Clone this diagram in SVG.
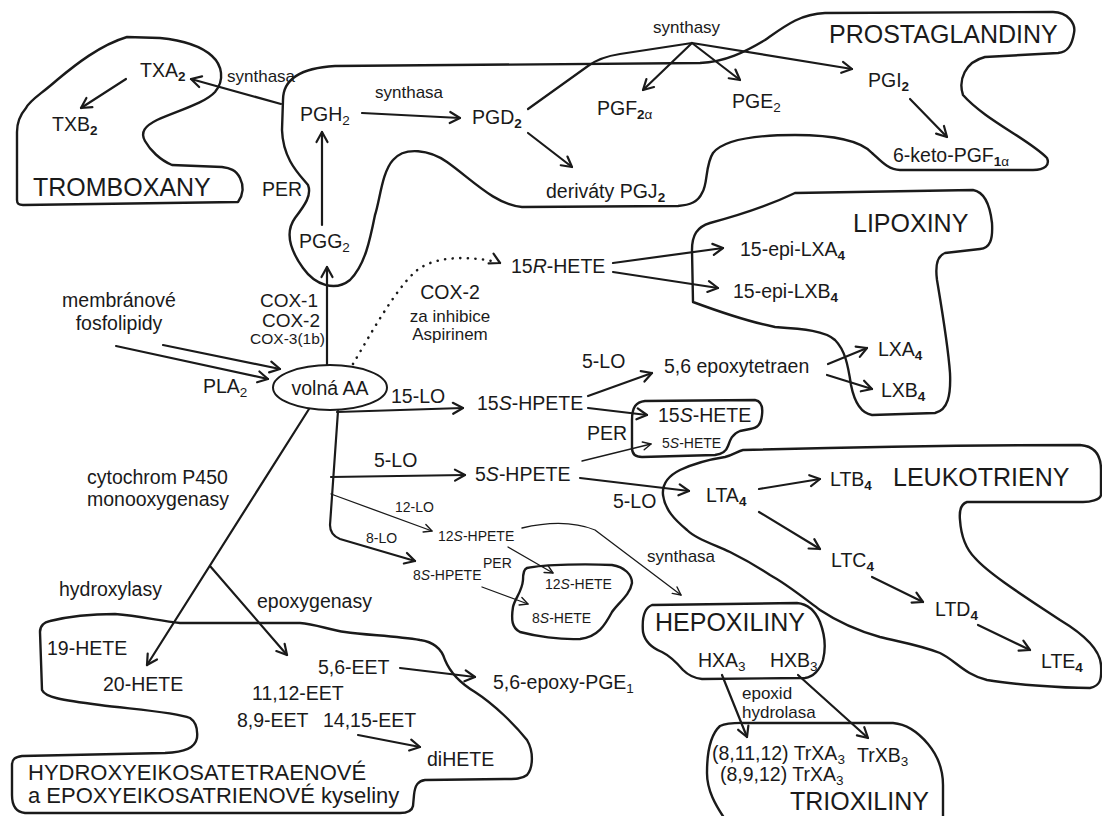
<svg xmlns="http://www.w3.org/2000/svg" width="1102" height="816" viewBox="0 0 1102 816">
<style>
.t{font-family:"Liberation Sans",Arial,sans-serif;font-size:19.5px;fill:#1a1a1a}
.s{font-size:17px}
.xs{font-size:14px}
.m{font-size:15.5px}
.c{font-size:19px}
.big{font-size:25px}
.h{font-size:22px}
.sub{font-size:13.5px}
.b{font-weight:bold}
.i{font-style:italic}
.ln{fill:none;stroke:#1a1a1a;stroke-width:2.2;stroke-linecap:round;stroke-linejoin:round}
.thin{stroke-width:1.3}
.dot{stroke-width:2.6;stroke-dasharray:0.1 7.5}
.blob{fill:none;stroke:#1a1a1a;stroke-width:2.4;stroke-linejoin:round}
.a{marker-end:url(#arr)}
.as{marker-end:url(#arrs)}
</style>
<defs>
<marker id="arr" viewBox="-13 -8 15 16" refX="0" refY="0" markerWidth="15" markerHeight="16" markerUnits="userSpaceOnUse" orient="auto"><path d="M-10,-5.5 L0,0 L-10,5.5" fill="none" stroke="#1a1a1a" stroke-width="2.2" stroke-linecap="round" stroke-linejoin="round"/></marker>
<marker id="arrs" viewBox="-10 -6 12 12" refX="0" refY="0" markerWidth="12" markerHeight="12" markerUnits="userSpaceOnUse" orient="auto"><path d="M-8,-4 L0,0 L-8,4" fill="none" stroke="#1a1a1a" stroke-width="1.4" stroke-linecap="round" stroke-linejoin="round"/></marker>
</defs>
<rect width="1102" height="816" fill="#ffffff"/>

<g id="groups">
<path id="blob-tromboxany" class="blob" d="M127,37 C100,45 75,65 57,80 C40,95 30,100 26,108 C20,115 17,122 17,132 L17,200 C17,204 19,205 23,205 L238,202 C243,195 244,186 240,178 C236,170 230,168 222,167 L172,165 C160,160 150,150 145,141 C140,132 145,126 157,120 C180,110 205,103 215,92 C225,80 222,65 212,56 C200,45 180,40 160,38 Z"/>
<path id="blob-prostaglandiny" class="blob" d="M283,100 C283,80 300,68 335,66 L700,63 C725,62 745,52 765,40 C785,26 800,14 825,13 L1053,12 C1068,12 1076,24 1074,33 C1072,45 1068,52 1058,53 L985,57 C965,62 958,80 963,95 C985,120 1030,140 1047,158 C1050,165 1045,170 1033,170 L900,170 C888,170 880,160 872,153 C860,140 830,135 795,135 C760,135 725,138 713,153 C705,165 708,185 702,193 C698,202 690,205 678,206 L522,207 C495,205 470,178 447,162 C430,150 405,146 393,160 C382,172 380,200 375,215 C370,240 365,265 350,280 C335,292 315,285 303,268 C290,250 285,232 295,218 C305,205 312,195 308,185 C300,175 283,160 282,130 Z"/>
<path id="blob-lipoxiny" class="blob" d="M795,193 L973,190 C985,192 990,205 992,223 C993,240 990,248 980,249 L945,253 C937,256 935,265 937,280 C942,310 948,345 950,373 C951,395 948,410 935,413 L872,415 C860,413 854,400 851,385 C848,365 845,350 835,340 C825,331 805,329 775,327 C750,322 720,312 693,302 L692,250 C692,235 697,227 710,223 C740,215 770,205 795,193 Z"/>
<path id="blob-15shete" class="blob" d="M632,420 C632,407 636,402 645,401 L755,400 C761,401 763,407 762,415 C761,424 758,428 750,429 L740,431 C732,434 730,440 728,446 C726,452 722,454 715,455 L642,457 C636,457 632,454 632,448 Z"/>
<path id="blob-12shete" class="blob" d="M527,568 C545,564 590,564 612,565 C625,567 632,575 632,583 C630,595 618,603 612,612 C605,625 598,637 580,639 C560,640 535,636 520,632 C512,628 511,620 513,607 C515,598 522,592 523,580 C523,573 524,569 527,568 Z"/>
<path id="blob-leukotrieny" class="blob" d="M743,450 C850,447 1000,445 1080,445 C1095,446 1101,455 1101,470 L1101,495 C1100,500 1090,502 1083,502 L967,502 C961,504 959,510 960,520 C961,535 965,548 975,558 C990,575 1030,600 1060,620 C1085,635 1100,650 1101,665 C1102,680 1100,686 1090,688 C1060,688 1010,684 987,680 C965,675 955,660 940,653 C920,645 900,642 880,637 C855,630 835,620 820,610 C800,595 785,583 770,575 C755,565 742,558 730,552 C710,543 695,538 687,530 C675,520 665,510 663,495 C662,485 668,476 680,470 C695,463 712,459 725,457 C733,455 738,451 743,450 Z"/>
<path id="blob-hepoxiliny" class="blob" d="M652,605 L797,603 C807,604 815,610 820,622 C825,635 826,648 823,660 C820,670 813,677 805,678 L702,679 C693,678 688,675 683,670 C677,663 670,656 662,652 C652,648 645,642 643,632 C642,620 644,608 652,605 Z"/>
<path id="blob-trioxiliny" class="blob" d="M727,822 C715,805 707,790 707,773 C707,755 710,735 720,726 C728,722 740,723 750,723 L893,723 C905,724 918,732 928,744 C938,756 943,770 943,785 L943,822"/>
<path id="blob-hydroxy" class="blob" d="M40,632 C40,626 44,622 50,621 C70,616 95,614 115,614 C140,616 160,621 180,623 L300,623 C315,624 330,630 345,632 C365,635 395,636 420,640 C435,642 442,650 445,660 C450,672 460,683 475,692 C495,705 515,725 527,740 C534,752 533,768 527,775 C522,779 515,779 505,779 L425,780 C418,781 415,785 414,795 L413,806 C412,811 408,813 400,813 L25,813 C15,812 12,805 12,795 L12,765 C12,759 15,757 22,756 L165,753 C185,752 195,748 197,738 C198,728 196,722 190,718 C175,712 130,709 100,705 C60,700 45,697 42,690 Z"/>
</g>

<g id="connectors">
<path class="ln a" d="M126,79 L81,108"/>
<path class="ln a" d="M281,104 L191,79"/>
<path class="ln a" d="M362,113 L460,118"/>
<path class="ln a" d="M322,225 L322,132"/>
<path class="ln a" d="M327,365 L327,267"/>
<path class="ln a" d="M528,133 L572,167"/>
<path class="ln" d="M528,109 L588,66 Q600,57 620,54 L692,43"/>
<path class="ln a" d="M692,43 L643,90"/>
<path class="ln a" d="M692,43 L740,80"/>
<path class="ln a" d="M692,43 L852,69"/>
<path class="ln a" d="M910,99 L947,137"/>
<path class="ln a" d="M116,346 L268,379"/>
<path class="ln a" d="M163,345 L280,369"/>
<path class="ln dot" d="M353,364 C370,335 395,290 415,272 C430,258 460,255 492,261"/>
<path class="ln a" d="M499,262.5 L500,263"/>
<path class="ln a" d="M613,263 L723,248"/>
<path class="ln a" d="M613,272 L718,288"/>
<path class="ln a" d="M337,412 L463,408"/>
<path class="ln a" d="M338,411 L330,525 Q330,535 340,539 L415,561"/>
<path class="ln a" d="M331,477 L465,475"/>
<path class="ln thin as" d="M331,494 L432,531"/>
<path class="ln a" d="M588,396 L652,373"/>
<path class="ln a" d="M588,408 L647,415"/>
<path class="ln thin as" d="M582,461 L651,444"/>
<path class="ln a" d="M580,478 L689,491"/>
<path class="ln a" d="M828,364 L867,348"/>
<path class="ln a" d="M827,375 L872,389"/>
<path class="ln a" d="M759,489 L820,479"/>
<path class="ln a" d="M759,512 L820,549"/>
<path class="ln a" d="M872,577 L923,602"/>
<path class="ln a" d="M978,625 L1030,650"/>
<path class="ln thin as" d="M522,528 Q565,518 595,530 L681,595"/>
<path class="ln thin as" d="M508,547 L553,573"/>
<path class="ln thin as" d="M482,587 L528,604"/>
<path class="ln a" d="M309,409 L147,665"/>
<path class="ln a" d="M210,566 L287,655"/>
<path class="ln a" d="M400,668 L475,677"/>
<path class="ln a" d="M358,735 L420,747"/>
<path class="ln a" d="M722,675 L747,737"/>
<path class="ln a" d="M798,675 L868,738"/>
</g>

<g id="labels">
<text class="t s" x="653" y="33">synthasy</text>
<text class="t s" x="227" y="82">synthasa</text>
<text class="t s" x="375" y="98">synthasa</text>
<text class="t" x="262" y="196">PER</text>
<text class="t c" x="318" y="307" text-anchor="end">COX-1</text>
<text class="t c" x="320" y="327" text-anchor="end">COX-2</text>
<text class="t m" x="325" y="344" text-anchor="end">COX-3(1b)</text>
<text class="t" x="450" y="299" text-anchor="middle">COX-2</text>
<text class="t s" x="450" y="322" text-anchor="middle">za inhibice</text>
<text class="t s" x="450" y="340" text-anchor="middle">Aspirinem</text>
<text class="t" x="203" y="393">PLA<tspan class="sub" dy="4">2</tspan></text>
<text class="t" x="582" y="368">5-LO</text>
<text class="t" x="391" y="403">15-LO</text>
<text class="t" x="587" y="440">PER</text>
<text class="t" x="374" y="467">5-LO</text>
<text class="t" x="613" y="508">5-LO</text>
<text class="t xs" x="395" y="512">12-LO</text>
<text class="t xs" x="366" y="543">8-LO</text>
<text class="t s" x="647" y="562">synthasa</text>
<text class="t xs" x="483" y="568">PER</text>
<text class="t" x="87" y="484">cytochrom P450</text>
<text class="t" x="87" y="506">monooxygenasy</text>
<text class="t" x="59" y="596">hydroxylasy</text>
<text class="t" x="257" y="608">epoxygenasy</text>
<text class="t s" x="742" y="699">epoxid</text>
<text class="t s" x="742" y="718">hydrolasa</text>
</g>

<g id="titles">
<text class="t big" x="829" y="43">PROSTAGLANDINY</text>
<text class="t big" x="33" y="196">TROMBOXANY</text>
<text class="t big" x="853" y="232">LIPOXINY</text>
<text class="t big" x="893" y="486">LEUKOTRIENY</text>
<text class="t big" x="655" y="631">HEPOXILINY</text>
<text class="t big" x="790" y="810">TRIOXILINY</text>
<text class="t h" x="28" y="780">HYDROXYEIKOSATETRAENOVÉ</text>
<text class="t h" x="28" y="803">a EPOXYEIKOSATRIENOVÉ kyseliny</text>
</g>

<g id="node-TXA2"><text class="t" x="140" y="77">TXA<tspan class="sub b" dy="4">2</tspan></text></g>
<g id="node-TXB2"><text class="t" x="52" y="131">TXB<tspan class="sub b" dy="4">2</tspan></text></g>
<g id="node-PGH2"><text class="t" x="300" y="121">PGH<tspan class="sub" dy="4">2</tspan></text></g>
<g id="node-PGG2"><text class="t" x="299" y="248">PGG<tspan class="sub" dy="4">2</tspan></text></g>
<g id="node-PGD2"><text class="t" x="472" y="124">PGD<tspan class="sub b" dy="4">2</tspan></text></g>
<g id="node-PGF2a"><text class="t" x="597" y="115">PGF<tspan class="sub b" dy="4">2</tspan><tspan class="sub" font-size="12">α</tspan></text></g>
<g id="node-PGE2"><text class="t" x="732" y="108">PGE<tspan class="sub" dy="4">2</tspan></text></g>
<g id="node-PGI2"><text class="t" x="868" y="87">PGI<tspan class="sub b" dy="4">2</tspan></text></g>
<g id="node-6keto"><text class="t" x="893" y="162">6-keto-PGF<tspan class="sub b" dy="4">1</tspan><tspan class="sub" font-size="12">α</tspan></text></g>
<g id="node-PGJ2"><text class="t" x="546" y="198">deriváty PGJ<tspan class="sub b" dy="4">2</tspan></text></g>
<g id="node-15RHETE"><text class="t" x="511" y="273">15<tspan class="i">R</tspan>-HETE</text></g>
<g id="node-15epiLXA4"><text class="t" x="740" y="256">15-epi-LXA<tspan class="sub b" dy="4">4</tspan></text></g>
<g id="node-15epiLXB4"><text class="t" x="733" y="298">15-epi-LXB<tspan class="sub b" dy="4">4</tspan></text></g>
<g id="node-membrane"><text class="t" x="119" y="307" text-anchor="middle">membránové</text><text class="t" x="119" y="330" text-anchor="middle">fosfolipidy</text></g>
<g id="node-AA"><ellipse cx="330" cy="387.5" rx="57" ry="22.5" fill="none" stroke="#1a1a1a" stroke-width="2"/><text class="t" x="330" y="395" text-anchor="middle">volná AA</text></g>
<g id="node-epoxytetraen"><text class="t" x="664" y="373">5,6 epoxytetraen</text></g>
<g id="node-LXA4"><text class="t" x="878" y="356">LXA<tspan class="sub b" dy="4">4</tspan></text></g>
<g id="node-LXB4"><text class="t" x="881" y="397">LXB<tspan class="sub b" dy="4">4</tspan></text></g>
<g id="node-15SHPETE"><text class="t" x="477" y="410">15<tspan class="i">S</tspan>-HPETE</text></g>
<g id="node-15SHETE"><text class="t" x="658" y="422">15<tspan class="i">S</tspan>-HETE</text></g>
<g id="node-5SHETE"><text class="t xs" x="662" y="448">5<tspan class="i">S</tspan>-HETE</text></g>
<g id="node-5SHPETE"><text class="t" x="475" y="481">5<tspan class="i">S</tspan>-HPETE</text></g>
<g id="node-LTB4"><text class="t" x="830" y="486">LTB<tspan class="sub b" dy="4">4</tspan></text></g>
<g id="node-LTA4"><text class="t" x="706" y="502">LTA<tspan class="sub b" dy="4">4</tspan></text></g>
<g id="node-LTC4"><text class="t" x="831" y="567">LTC<tspan class="sub b" dy="4">4</tspan></text></g>
<g id="node-LTD4"><text class="t" x="935" y="616">LTD<tspan class="sub b" dy="4">4</tspan></text></g>
<g id="node-LTE4"><text class="t" x="1041" y="668">LTE<tspan class="sub b" dy="4">4</tspan></text></g>
<g id="node-12SHPETE"><text class="t xs" x="438" y="541">12<tspan class="i">S</tspan>-HPETE</text></g>
<g id="node-8SHPETE"><text class="t xs" x="413" y="580">8<tspan class="i">S</tspan>-HPETE</text></g>
<g id="node-12SHETE"><text class="t xs" x="545" y="589">12<tspan class="i">S</tspan>-HETE</text></g>
<g id="node-8SHETE"><text class="t xs" x="532" y="623">8<tspan class="i">S</tspan>-HETE</text></g>
<g id="node-HXA3"><text class="t" x="698" y="667">HXA<tspan class="sub" dy="4">3</tspan></text></g>
<g id="node-HXB3"><text class="t" x="770" y="667">HXB<tspan class="sub" dy="4">3</tspan></text></g>
<g id="node-TrXA3"><text class="t" x="712" y="760">(8,11,12) TrXA<tspan class="sub" dy="4">3</tspan></text><text class="t" x="720" y="781">(8,9,12) TrXA<tspan class="sub" dy="3.5">3</tspan></text></g>
<g id="node-TrXB3"><text class="t" x="857" y="762">TrXB<tspan class="sub" dy="4">3</tspan></text></g>
<g id="node-19HETE"><text class="t" x="47" y="655">19-HETE</text></g>
<g id="node-20HETE"><text class="t" x="103" y="691">20-HETE</text></g>
<g id="node-EET"><text class="t" x="318" y="674">5,6-EET</text><text class="t" x="252" y="700">11,12-EET</text><text class="t" x="237" y="727">8,9-EET</text><text class="t" x="323" y="727">14,15-EET</text></g>
<g id="node-epoxyPGE1"><text class="t" x="493" y="689">5,6-epoxy-PGE<tspan class="sub" dy="4">1</tspan></text></g>
<g id="node-diHETE"><text class="t" x="427" y="766">diHETE</text></g>
</svg>
